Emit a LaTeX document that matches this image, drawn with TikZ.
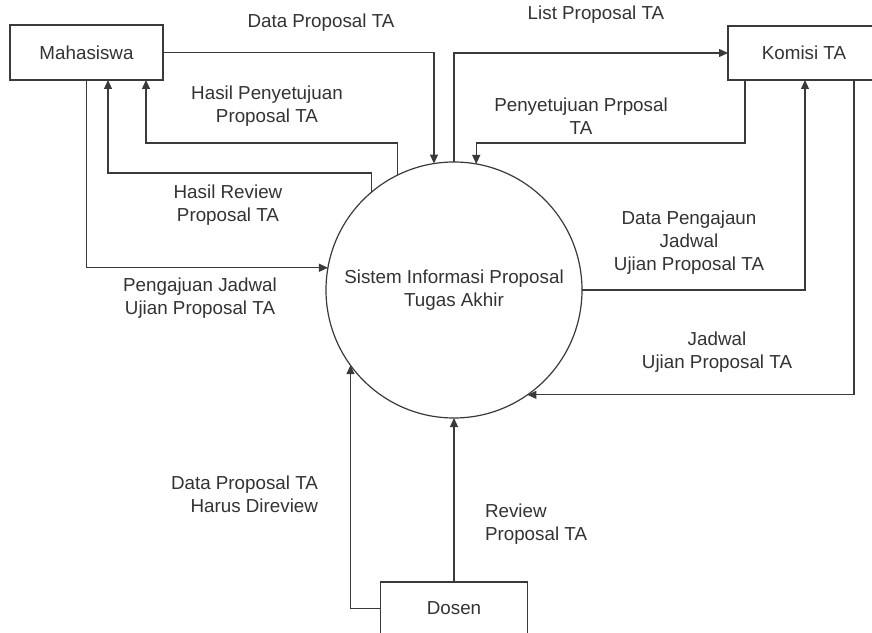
\documentclass[tikz,border=0pt]{standalone}
\usepackage{fontspec}
\setmainfont{Liberation Sans}
\usetikzlibrary{arrows.meta}
\definecolor{ln}{HTML}{3A3A3A}
\definecolor{tx}{HTML}{333333}
\begin{document}
\begin{tikzpicture}[x=1bp,y=-1bp,
  every node/.style={font=\fontsize{18.8bp}{23bp}\selectfont, text=tx, inner sep=0pt, outer sep=0pt},
  entity/.style={draw=ln, line width=1.2bp, rectangle, fill=white},
  proc/.style={draw=ln, line width=1.2bp, circle, minimum size=256bp, align=center},
  arr/.style={draw=ln, line width=1.2bp, -{Triangle[length=9bp,width=8bp]}},
  lbl/.style={align=center}]
\useasboundingbox (0,0) rectangle (872,633);
\clip (0,0) rectangle (872,633);
\fill[white] (0,0) rectangle (872,633);

\node[entity, minimum width=153bp, minimum height=55bp] (m) at (86.5,52.5) {Mahasiswa};
\node[entity, minimum width=152bp, minimum height=54bp] (k) at (804,53) {Komisi TA};
\node[entity, minimum width=147bp, minimum height=53bp] (d) at (454,608.5) {Dosen};
\node[proc] (c) at (454,290) {Sistem Informasi Proposal\\Tugas Akhir};

% Mahasiswa <-> system
\draw[arr] (m.east) -| (c.99.9);
\coordinate (hp) at (146,143);
\draw[arr] (c.116.4) |- (hp) -- (hp |- m.south);
\coordinate (hr) at (108,173);
\draw[arr] (c.130.4) |- (hr) -- (hr |- m.south);
\draw[arr] (m.south) |- (c.170.1);

% Komisi <-> system
\draw[arr] (c.90.4) |- (k.west);
\draw[arr] ([xshift=17bp]k.south west) |- (c.80.1 |- 0,143) -- (c.80.1);
\draw[arr] (c.0) -| ([xshift=77bp]k.south west);
\draw[arr] ([xshift=126bp]k.south west) |- (c.-55.9);

% Dosen -> system
\draw[arr] (d.west) -| (c.216.4);
\draw[arr] (d.north) -- (c.-90);

% labels
\node[lbl] (l1) at (321,23) {Data Proposal TA};
\node[lbl] (l2) at (267,106.5) {Hasil Penyetujuan\\Proposal TA};
\node[lbl] (l3) at (228,205.5) {Hasil Review\\Proposal TA};
\node[lbl] (l4) at (200,298.5) {Pengajuan Jadwal\\Ujian Proposal TA};
\node[lbl] (l5) at (596,15) {List Proposal TA};
\node[lbl] (l6) at (581,116) {Penyetujuan Prposal\\TA};
\node[lbl] (l7) at (689,243) {Data Pengajaun\\Jadwal\\Ujian Proposal TA};
\node[lbl] (l8) at (717,352) {Jadwal\\Ujian Proposal TA};
\node[align=right, anchor=east] (l9) at (318,494.5) {Data Proposal TA\\Harus Direview};
\node[align=left, anchor=west] (l10) at (485,524.5) {Review\\Proposal TA};
\end{tikzpicture}
\end{document}
